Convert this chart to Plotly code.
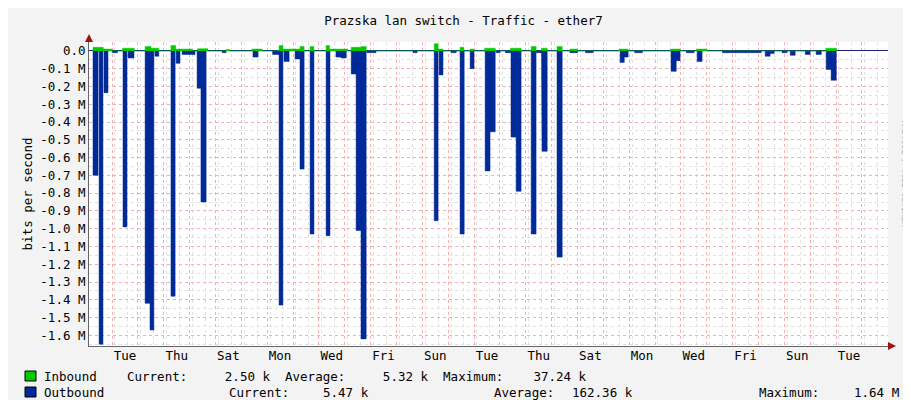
import plotly.graph_objects as go

# Outbound segments: start day, end day, value (M bits/s)
out_start = [0.155,0.39,0.58,0.9,1.315,1.51,2.17,2.36,2.55,3.17,3.37,3.6,4.18,4.33,5.15,6.34,7.1,7.35,7.54,7.97,8.16,8.55,9.17,9.55,9.75,10.14,10.33,10.52,10.75,12.53,13.35,13.54,14.0,14.35,14.74,15.32,15.51,15.75,16.1,16.32,16.52,17.10,17.3,17.52,18.10,18.6,19.2,20.54,20.70,21.1,22.51,22.71,23.1,23.52,24.5,25.0,25.4,26.15,26.34,26.8,27.12,27.70,28.12,28.51,28.70]
out_end   = [0.35,0.54,0.735,1.1,1.47,1.74,2.36,2.51,2.7,3.33,3.52,4.1,4.33,4.53,5.30,6.54,7.35,7.50,7.74,8.16,8.32,8.70,9.32,9.75,9.95,10.33,10.52,10.72,11.1,12.69,13.50,13.69,14.2,14.51,14.89,15.51,15.71,15.9,16.32,16.52,16.71,17.29,17.5,17.72,18.30,18.9,19.5,20.70,20.85,21.4,22.71,22.86,23.4,23.71,25.0,25.4,26.0,26.34,26.5,27.0,27.31,27.89,28.32,28.70,28.90]
out_val   = [0.70,1.65,0.235,0.01,0.99,0.04,1.42,1.57,0.03,1.38,0.07,0.02,0.21,0.85,0.01,0.035,0.02,1.43,0.06,0.045,0.665,1.03,1.04,0.035,0.04,0.13,1.01,1.62,0.01,0.01,0.955,0.135,0.01,1.03,0.10,0.675,0.455,0.01,0.01,0.485,0.79,1.03,0.01,0.565,1.16,0.01,0.01,0.065,0.035,0.01,0.115,0.055,0.01,0.06,0.01,0.01,0.01,0.03,0.015,0.01,0.025,0.02,0.02,0.105,0.165]

# Inbound segments
in_start = [0.155,0.55,1.3,2.17,2.4,3.17,3.35,4.2,5.3,6.3,7.35,7.5,8.16,8.55,9.17,9.3,10.14,10.52,13.35,13.5,14.35,14.74,15.3,16.3,17.1,17.5,18.1,18.6,20.5,22.5,23.5,28.5]
in_end   = [0.55,0.9,1.75,2.4,2.7,3.35,4.0,4.6,5.45,6.7,7.5,8.3,8.32,8.7,9.3,10.0,10.52,10.72,13.5,13.69,14.5,14.89,15.71,16.71,17.29,17.72,18.3,18.9,20.85,22.86,23.9,28.9]
in_val   = [0.02,0.01,0.015,0.025,0.015,0.03,0.01,0.012,0.008,0.01,0.03,0.01,0.025,0.025,0.03,0.01,0.02,0.025,0.04,0.01,0.02,0.01,0.015,0.015,0.025,0.015,0.025,0.01,0.01,0.01,0.01,0.015]

day_labels = ["Tue","Thu","Sat","Mon","Wed","Fri","Sun","Tue","Thu","Sat","Mon","Wed","Fri","Sun","Tue"]
first_midnight = 0.89
x_max = 30.9

def steps(starts, ends, vals, sign):
    xs, ys = [], []
    for s, e, v in zip(starts, ends, vals):
        xs += [s, s, e, e]
        ys += [0, sign*v, sign*v, 0]
    return xs, ys

fig = go.Figure()
ox, oy = steps(out_start, out_end, out_val, -1)
ix, iy = steps(in_start, in_end, in_val, 1)
fig.add_trace(go.Scatter(x=ox, y=oy, fill="tozeroy", mode="lines",
                         line=dict(color="#002A97", width=0.5), fillcolor="#002A97", hoverinfo="skip"))
fig.add_trace(go.Scatter(x=ix, y=iy, fill="tozeroy", mode="lines",
                         line=dict(color="#00CC00", width=0.5), fillcolor="#00CC00", hoverinfo="skip"))
fig.add_trace(go.Scatter(x=[0, x_max], y=[0, 0], xaxis="x2", mode="lines",
                         line=dict(width=0), hoverinfo="skip"))

mono = "DejaVu Sans Mono"
yt = [round(-0.1*k, 1) for k in range(0, 17)]
ytext = ["0.0"] + [f"{v:.1f} M" for v in yt[1:]]

fig.update_layout(
    width=911, height=400, showlegend=False,
    paper_bgcolor="#F3F3F3", plot_bgcolor="#FFFFFF",
    margin=dict(l=81, r=31, t=34, b=62, autoexpand=False),
    font=dict(family=mono, size=12, color="#000000"),
    title=dict(text="Prazska lan switch - Traffic - ether7", x=0.5, xanchor="center",
               y=0.968, yanchor="middle", font=dict(family=mono, size=12.5), automargin=False),
    xaxis=dict(range=[0, x_max], tick0=first_midnight, dtick=1, showticklabels=False,
               showgrid=True, gridcolor="#F4B0B0", griddash="dot", gridwidth=1,
               minor=dict(dtick=0.5, showgrid=True, gridcolor="#E0E0E0", griddash="dot"),
               zeroline=False, showline=True, linecolor="#666666", ticks="", automargin=False),
    xaxis2=dict(range=[0, x_max], overlaying="x", side="bottom",
                tickvals=[first_midnight + 0.5 + 2*k for k in range(len(day_labels))],
                ticktext=day_labels, showgrid=False, zeroline=False, ticks="",
                tickfont=dict(family=mono, size=12.5), automargin=False),
    yaxis=dict(range=[-1.66, 0.05], tickvals=yt, ticktext=ytext,
               showgrid=True, gridcolor="#F4B0B0", griddash="dot",
               minor=dict(dtick=0.05, showgrid=True, gridcolor="#E0E0E0", griddash="dot"),
               zeroline=True, zerolinecolor="#1A237E", zerolinewidth=1,
               showline=True, linecolor="#666666", ticks="", automargin=False,
               tickfont=dict(family=mono, size=12.5),
               title=dict(text="bits per second", font=dict(family=mono, size=12.5), standoff=4)),
)

def px(xp): return (xp - 81) / 799
def py(yp): return (338 - yp) / 304

ann = []
def txt(x, y, t, anchor="left", size=12.5, color="#000"):
    ann.append(dict(x=px(x), y=py(y), xref="paper", yref="paper", text=t, showarrow=False,
                    xanchor=anchor, yanchor="middle", xshift=0,
                    font=dict(family=mono, size=size, color=color)))

txt(34, 368, "Inbound")
txt(117, 368, "Current:     2.50 k  Average:     5.32 k  Maximum:    37.24 k")
txt(34, 384, "Outbound")
txt(219, 384, "Current:")
txt(363, 384, "5.47 k", "right")
txt(484, 384, "Average:")
txt(627, 384, "162.36 k", "right")
txt(749, 384, "Maximum:")
txt(893, 384, "1.64 M", "right")
ann.append(dict(x=px(903), y=py(110), xref="paper", yref="paper", text="RRDTOOL / TOBI OETIKER",
                showarrow=False, textangle=90, font=dict(family=mono, size=8, color="#AAAAAA")))
fig.update_layout(annotations=ann)

shapes = [
    dict(type="rect", xref="paper", yref="paper", x0=px(17), x1=px(28), y0=py(373), y1=py(363),
         fillcolor="#00CC00", line=dict(color="#000", width=1)),
    dict(type="rect", xref="paper", yref="paper", x0=px(17), x1=px(28), y0=py(389), y1=py(379),
         fillcolor="#002A97", line=dict(color="#000", width=1)),
    dict(type="path", xref="paper", yref="paper",
         path=f"M {px(880)} {py(334)} L {px(888)} {py(338)} L {px(880)} {py(342)} Z",
         fillcolor="#A01010", line=dict(width=0)),
    dict(type="path", xref="paper", yref="paper",
         path=f"M {px(77)} {py(34)} L {px(81)} {py(26)} L {px(85)} {py(34)} Z",
         fillcolor="#A01010", line=dict(width=0)),
]
fig.update_layout(shapes=shapes)

fig.write_html("out.html")
